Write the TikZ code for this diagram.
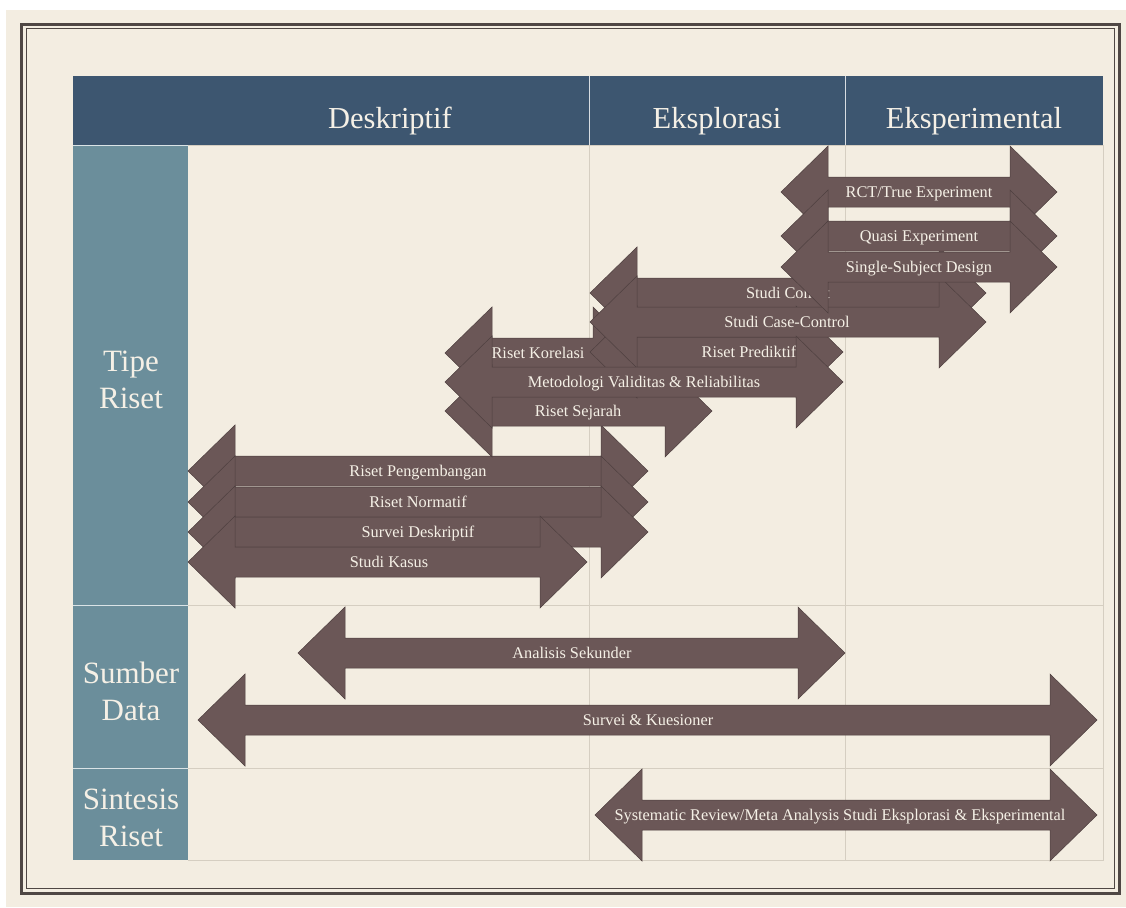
\documentclass[tikz,border=0pt]{standalone}
\usepackage{fontspec}
\setmainfont{Liberation Serif}
\definecolor{paper}{HTML}{F3EDE1}
\definecolor{framecol}{HTML}{4F4744}
\definecolor{headblue}{HTML}{3D5670}
\definecolor{sideteal}{HTML}{6B8E9B}
\definecolor{gridline}{HTML}{D5CEC1}
\definecolor{arrowfill}{HTML}{6B5757}
\definecolor{arrowedge}{HTML}{4E3F3F}
\definecolor{lighttext}{HTML}{F5F0E6}
\newcommand{\drawhead}{\node[headtext, anchor=base]}
\newcommand{\drawside}{\node[sidetext]}
% name, left tip, right tip, y, label x, label
\newcommand{\drawbiarrow}[6]{%
  \filldraw[biarrow] (#2,#4) -- ++(47,-46) -- ++(0,31) -- (#3-47,#4-15) -- ++(0,-31)
    -- (#3,#4) -- ++(-47,46) -- ++(0,-31) -- (#2+47,#4+15) -- ++(0,31) -- cycle;
  \node[arrowtext, anchor=base] (#1) at (#5,#4+5.5) {#6};
}

\begin{document}
\begin{tikzpicture}[x=1pt, y=-1pt,
  headtext/.style={text=lighttext, inner sep=0, font=\fontsize{30.5}{35}\selectfont},
  sidetext/.style={text=lighttext, align=center, inner sep=0, font=\fontsize{31}{37}\selectfont},
  arrowtext/.style={text=lighttext, inner sep=0, font=\fontsize{16.3}{18}\selectfont},
  biarrow/.style={fill=arrowfill, draw=arrowedge, line width=0.5pt, line join=miter},
  grid/.style={draw=gridline, line width=1pt}]
\useasboundingbox (0,0) rectangle (1126,907);
\fill[white] (0,0) rectangle (1126,907);
%paper and frame
\fill[paper] (6,10) rectangle (1126,907);
\draw[framecol, line width=3pt] (21,24.5) rectangle (1119,893.5);
\draw[framecol, line width=1pt] (26,29) rectangle (1114,888.5);

%table header and left column
\fill[headblue] (73,76) rectangle (1103,145);
\fill[sideteal] (73,145) rectangle (188,860);
\draw[white!80!headblue, line width=1pt] (589,76) -- (589,145) (845,76) -- (845,145);
\draw[white!75!sideteal, line width=1pt] (73,145) -- (188,145) (73,605) -- (188,605) (73,768) -- (188,768);
\draw[grid] (188,145) -- (1103,145) -- (1103,860) -- (188,860);
\draw[grid] (188,605) -- (1103,605) (188,768) -- (1103,768);
\draw[grid] (589,145) -- (589,860) (845,145) -- (845,860);

\drawhead (deskriptif) at (390,128) {Deskriptif};
\drawhead (eksplorasi) at (717,128) {Eksplorasi};
\drawhead (eksperimental) at (974,128) {Eksperimental};
\drawside (tipe) at (131,380) {Tipe\\Riset};
\drawside (sumber) at (131,691) {Sumber\\Data};
\drawside (sintesis) at (131,818) {Sintesis\\Riset};

%tipe riset
\drawbiarrow{pengembangan}{188}{648}{471}{418}{Riset Pengembangan}
\drawbiarrow{normatif}{188}{648}{502}{418}{Riset Normatif}
\drawbiarrow{survdesk}{188}{648}{532}{418}{Survei Deskriptif}
\drawbiarrow{kasus}{188}{587}{562}{389}{Studi Kasus}

\drawbiarrow{korelasi}{445}{640}{353}{538}{Riset Korelasi}
\drawbiarrow{sejarah}{445}{712}{411}{578}{Riset Sejarah}
\drawbiarrow{cohort}{590}{986}{293}{788}{Studi Cohort}
\drawbiarrow{prediktif}{590}{843}{352}{749}{Riset Prediktif}
\drawbiarrow{casecontrol}{590}{986}{322}{787}{Studi Case-Control}
\drawbiarrow{validitas}{445}{843}{382}{644}{Metodologi Validitas \& Reliabilitas}

\drawbiarrow{rct}{781}{1057}{192}{919}{RCT/True Experiment}
\drawbiarrow{quasi}{781}{1057}{236}{919}{Quasi Experiment}
\drawbiarrow{single}{781}{1057}{267}{919}{Single-Subject Design}

%sumber data
\drawbiarrow{sekunder}{298}{845}{653}{572}{Analisis Sekunder}
\drawbiarrow{kuesioner}{198}{1097}{720}{648}{Survei \& Kuesioner}

%sintesis riset
\drawbiarrow{review}{595}{1097}{815}{840}{Systematic Review/Meta Analysis Studi Eksplorasi \& Eksperimental}
\end{tikzpicture}
\end{document}
